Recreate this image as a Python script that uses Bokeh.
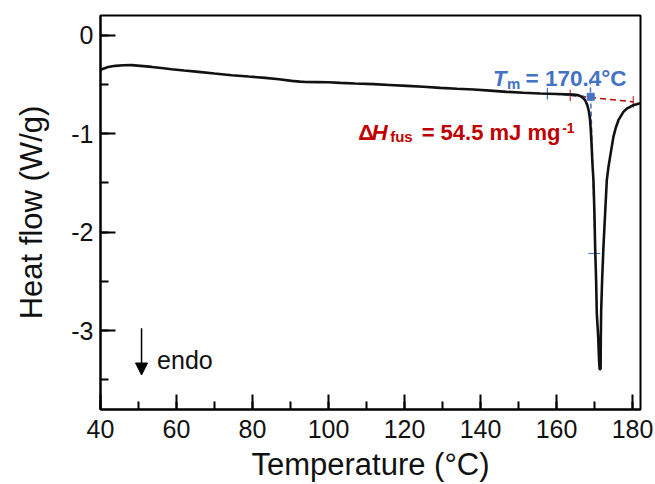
from bokeh.plotting import figure
from bokeh.models import (Label, Arrow, NormalHead, SingleIntervalTicker, Range1d,
                          CustomJSTickFormatter)
from bokeh.embed import file_html
from bokeh.resources import INLINE

# ---- data ----
temp = [40, 42, 43.9, 46, 48.2, 50.5, 53.5, 56, 58.7, 62, 65.8, 70, 74.5, 79, 83.3, 87,
        90.3, 92.5, 94, 97, 100, 103.1, 107, 111.9, 116, 120.6, 125, 129.4, 133.8, 138.2,
        142.5, 146.9, 151.3, 155.7, 160, 164.5, 165.5, 166.2, 167.0, 167.6, 168.1, 168.5,
        168.8, 169.02, 169.25, 169.45, 169.72, 169.98, 170.16, 170.42, 170.6, 170.95, 171.2,
        171.35, 171.6, 171.65, 171.75, 172.0, 172.35, 172.79, 173.23, 173.7, 174.1, 174.97,
        175.6, 176.29, 177.6, 178.5, 179.36, 180.2, 181.1, 182]
heat_flow = [-0.35, -0.322, -0.311, -0.305, -0.304, -0.311, -0.322, -0.333, -0.345, -0.358,
             -0.372, -0.389, -0.406, -0.42, -0.433, -0.448, -0.464, -0.471, -0.475, -0.476,
             -0.477, -0.484, -0.49, -0.497, -0.505, -0.514, -0.524, -0.535, -0.544, -0.552,
             -0.563, -0.575, -0.584, -0.592, -0.597, -0.603, -0.608, -0.617, -0.637, -0.665,
             -0.71, -0.77, -0.85, -0.964, -1.13, -1.303, -1.472, -1.81, -2.149, -2.487,
             -2.826, -3.05, -3.3, -3.39, -3.39, -3.1, -2.8, -2.487, -2.149, -1.81, -1.472,
             -1.33, -1.235, -1.032, -0.94, -0.863, -0.778, -0.745, -0.727, -0.71, -0.70, -0.69]

# onset construction (blue) and integration baseline (red)
onset_base_x = [157.6, 169.0]
onset_base_y = [-0.594, -0.625]
onset_tan_x = [168.85, 170.2]
onset_tan_y = [-0.45, -2.216]
onset_pt_x = [169.0]
onset_pt_y = [-0.625]
int_base_x = [163.6, 180.2]
int_base_y = [-0.61, -0.677]

tm_label = "= 170.4°C"
dh_label = "= 54.5 mJ mg"

BLUE = "#4472C4"
RED = "#C00000"
FONT = "Liberation Sans"

p = figure(width=655, height=484, output_backend="svg", toolbar_location=None,
           x_range=Range1d(40, 182.1), y_range=Range1d(-3.8, 0.2),
           min_border_left=100, min_border_right=15, min_border_top=15, min_border_bottom=75)
p.grid.visible = False
p.outline_line_color = "black"
p.outline_line_width = 2
p.background_fill_color = "white"
p.border_fill_color = "white"

p.xaxis.ticker = SingleIntervalTicker(interval=20, num_minor_ticks=2)
p.yaxis.ticker = SingleIntervalTicker(interval=1, num_minor_ticks=2)
p.yaxis.formatter = CustomJSTickFormatter(code="return tick.toFixed(0);")
for ax in (p.xaxis, p.yaxis):
    ax.axis_line_width = 2
    ax.axis_line_color = "black"
    ax.major_tick_line_color = "black"
    ax.minor_tick_line_color = "black"
    ax.major_tick_line_width = 2
    ax.minor_tick_line_width = 2
    ax.major_tick_in = 15
    ax.major_tick_out = 0
    ax.minor_tick_in = 8
    ax.minor_tick_out = 0
    ax.major_label_text_font = FONT
    ax.major_label_text_font_size = "25px"
    ax.major_label_text_color = "#111111"
    ax.axis_label_text_font = FONT
    ax.axis_label_text_font_size = "31px"
    ax.axis_label_text_font_style = "normal"
    ax.axis_label_text_color = "#111111"
p.xaxis.axis_label = "Temperature (°C)"
p.yaxis.axis_label = "Heat flow (W/g)"
p.xaxis.major_label_standoff = 10
p.yaxis.major_label_standoff = 7
p.xaxis.axis_label_standoff = 6
p.yaxis.axis_label_standoff = 19

# annotation lines
p.line(int_base_x, int_base_y, line_color=RED, line_width=1.5, line_dash="6 4")
p.line(onset_base_x, onset_base_y, line_color=BLUE, line_width=1.5, line_dash="5 3")
p.line(onset_tan_x, onset_tan_y, line_color=BLUE, line_width=1.5, line_dash="5 3")
# small end ticks
p.segment(x0=[onset_base_x[0]], y0=[onset_base_y[0] + 0.06], x1=[onset_base_x[0]],
          y1=[onset_base_y[0] - 0.06], line_color=BLUE, line_width=1.2)
p.segment(x0=int_base_x, y0=[v + 0.06 for v in int_base_y], x1=int_base_x,
          y1=[v - 0.06 for v in int_base_y], line_color=RED, line_width=1.2, line_alpha=0.8)
p.segment(x0=[onset_tan_x[1] - 1.8], y0=[onset_tan_y[1]], x1=[onset_tan_x[1] + 1.3],
          y1=[onset_tan_y[1]], line_color=BLUE, line_width=1.2)

# main DSC curve
p.line(temp, heat_flow, line_color="#111111", line_width=2.6)

p.scatter(onset_pt_x, onset_pt_y, marker="square", size=7, fill_color=BLUE, line_color=BLUE)

# T_m label
tx, ty = 143.3, -0.437
p.add_layout(Label(x=tx, y=ty, text="T", text_font=FONT, text_font_size="22px",
                   text_font_style="bold italic", text_color=BLUE, text_baseline="alphabetic"))
p.add_layout(Label(x=tx, y=ty - 0.05, x_offset=14, text="m", text_font=FONT,
                   text_font_size="15px", text_font_style="bold", text_color=BLUE,
                   text_baseline="alphabetic"))
p.add_layout(Label(x=tx, y=ty, x_offset=32.5, text=tm_label, text_font=FONT,
                   text_font_size="22.5px", text_font_style="bold", text_color=BLUE,
                   text_baseline="alphabetic"))

# Delta H label
dx, dy = 107.8, -0.985
p.add_layout(Label(x=dx, y=dy, text="Δ", text_font=FONT, text_font_size="22px",
                   text_font_style="bold", text_color=RED, text_baseline="alphabetic"))
p.add_layout(Label(x=dx, y=dy, x_offset=13.5, text="H", text_font=FONT, text_font_size="22px",
                   text_font_style="bold italic", text_color=RED, text_baseline="alphabetic"))
p.add_layout(Label(x=dx, y=dy - 0.04, x_offset=32, text="fus", text_font=FONT,
                   text_font_size="15px", text_font_style="bold", text_color=RED,
                   text_baseline="alphabetic"))
p.add_layout(Label(x=dx, y=dy, x_offset=63.5, text=dh_label, text_font=FONT,
                   text_font_size="22px", text_font_style="bold", text_color=RED,
                   text_baseline="alphabetic"))
p.add_layout(Label(x=dx, y=dy + 0.04, x_offset=204, text="-1", text_font=FONT,
                   text_font_size="14px", text_font_style="bold", text_color=RED,
                   text_baseline="alphabetic"))

# endo arrow
p.add_layout(Arrow(x_start=50.8, y_start=-2.975, x_end=50.8, y_end=-3.45,
                   line_color="black", line_width=1.5,
                   end=NormalHead(size=12, fill_color="black", line_color="black")))
p.add_layout(Label(x=54.9, y=-3.30, text="endo", text_font=FONT, text_font_size="25px",
                   text_color="#111111", text_baseline="alphabetic"))

open("out.html", "w").write(file_html(p, INLINE))
